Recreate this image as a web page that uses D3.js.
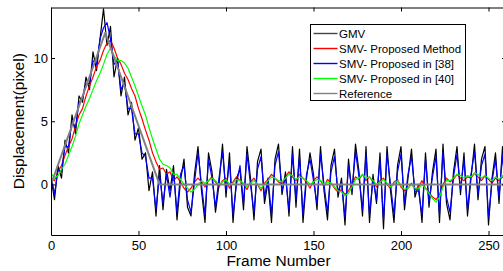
<!DOCTYPE html>
<html>
<head>
<meta charset="utf-8">
<script src="https://cdn.jsdelivr.net/npm/d3@7"></script>
<style>
  html, body { margin: 0; padding: 0; background: #fff; }
  svg { display: block; font-family: "Liberation Sans", Arial, sans-serif; }
</style>
</head>
<body>
<div id="chart"></div>
<script>
// Frame step for all sampled series
const STEP = 2;

// GMV (black), one value every 2 frames from 0 to 260
const gmv = [
  0.5, -1.2, 1.5, 0.5, 3.5, 2.5, 5.5, 4.0, 7.0, 6.5, 8.5, 7.5, 10.5, 9.0, 11.5, 13.9,
  11.0, 12.5, 8.5, 10.0, 7.0, 8.5, 5.5, 6.5, 3.5, 4.5, 2.0, 2.5, -0.5, 1.0, -2.5, 1.5,
  -2.0, 1.2, -0.5, 1.5, -2.8, 0.3, 2.0, -1.8, -2.5, 0.8, 3.0, -0.5, -3.0, 2.5, 1.0, -2.2,
  0.0, 3.2, -1.0, 2.5, -3.0, 0.5, 1.2, -2.0, 3.0, 0.5, -2.8, 1.8, 2.8, -1.5, 0.2, -3.0,
  2.0, 3.2, -0.8, 1.0, -2.5, 3.0, -1.8, 2.8, -3.0, 0.5, 2.5, 0.8, -2.0, 3.0, -0.5, -2.8,
  1.5, 2.8, -1.0, 0.5, -3.2, 2.0, -0.8, 3.2, 1.0, -2.5, 3.0, -3.0, 0.8, -1.5, 2.5, -3.5,
  3.0, -0.5, -3.0, 1.5, 3.0, -2.0, 0.5, 2.8, -1.0, 0.0, -3.0, 2.5, -1.8, 1.0, 2.8, -3.0,
  3.2, -1.5, -2.8, 1.0, 3.0, -0.8, 2.5, -2.5, 0.5, 3.2, -1.2, 2.0, 3.0, -3.2, 0.5, 2.5,
  -1.5, 3.0, -2.0
];

// SMV - Proposed Method (red)
const smvProposed = [
  0.5, 0.3, 1.0, 1.5, 2.3, 3.0, 3.6, 4.6, 5.5, 6.0, 7.0, 7.8, 8.5, 9.3, 9.8, 10.6,
  11.2, 11.4, 10.8, 10.0, 9.5, 8.8, 8.3, 7.6, 7.0, 6.0, 5.2, 4.3, 3.5, 2.5, 1.8, 1.2,
  1.3, 0.8, 1.0, 0.3, 0.6, 0.2, -0.3, -0.6, -0.3, 0.2, 0.5, 0.2, -0.2, 0.3, 0.6, 0.2,
  -0.2, 0.3, 0.5, -0.3, 0.2, 0.6, 0.3, 0.0, -0.4, 0.2, 0.5, 0.0, -0.5, 0.1, 0.4, 0.8,
  0.5, 0.2, 0.0, 0.6, 1.0, 0.6, 0.3, 0.8, 0.5, 0.2, -0.3, 0.3, 0.6, 0.3, -0.2, 0.4,
  0.1, -0.3, -0.6, -0.4, -0.8, -0.5, 0.0, 0.6, 0.4, 0.8, 0.3, 0.6, 0.2, -0.2, 0.3, 0.5,
  0.0, -0.3, 0.2, 0.4, -0.2, -0.5, -0.3, 0.1, -0.4, -0.2, 0.3, -0.3, -0.6, -1.0, -1.2, -0.8,
  0.0, 0.5, 0.2, 0.4, 0.8, 0.5, 0.3, 0.6, 0.5, 0.9, 0.6, 0.3, 0.7, 0.4, 0.1, 0.5,
  0.3, 0.6, 0.4
];

// SMV - Proposed in [38] (blue)
const smv38 = [
  0.8, -0.8, 1.2, 1.0, 3.0, 3.0, 5.0, 4.5, 6.5, 6.8, 8.0, 8.0, 9.8, 9.5, 11.5, 12.4,
  12.8, 11.5, 9.5, 9.8, 7.5, 8.0, 6.0, 6.0, 4.0, 4.0, 2.5, 2.2, 0.5, 0.5, -2.0, 0.8,
  -1.5, 0.8, -1.0, 1.0, -2.2, 0.8, 1.5, -1.2, -2.2, 0.2, 2.5, 0.0, -2.4, 2.0, 0.5, -1.8,
  0.5, 2.6, -0.5, 1.8, -2.4, 0.0, 1.5, -1.5, 2.4, 0.0, -2.2, 1.2, 2.2, -1.0, 0.5, -2.4,
  1.5, 2.6, -0.5, 0.6, -2.0, 2.4, -1.2, 2.2, -2.4, 0.8, 2.0, 0.3, -1.5, 2.4, 0.0, -2.2,
  1.0, 2.2, -0.6, 0.2, -2.6, 1.5, -0.5, 2.6, 0.6, -2.0, 2.4, -2.4, 0.4, -1.2, 2.0, -2.8,
  2.4, 0.0, -2.4, 1.0, 2.4, -1.5, 0.8, 2.2, -0.6, -0.5, -2.4, 2.0, -1.4, 0.6, 2.2, -2.4,
  2.6, -1.0, -2.2, 0.6, 2.4, -0.4, 2.0, -2.0, 0.8, 2.6, -0.8, 1.5, 2.4, -2.6, 0.2, 2.0,
  -1.0, 2.4, -1.6
];

// SMV - Proposed in [40] (green)
const smv40 = [
  0.9, 0.5, 0.7, 1.2, 1.6, 2.3, 3.0, 3.8, 4.8, 5.5, 6.2, 6.8, 7.5, 8.2, 8.8, 9.5,
  10.3, 10.8, 10.2, 9.8, 9.8, 9.6, 9.2, 8.5, 7.8, 7.0, 6.2, 5.5, 4.5, 3.6, 2.8, 2.0,
  1.6, 1.5, 1.3, 0.8, 0.8, 0.4, 0.0, -0.3, -0.6, -0.4, 0.0, 0.3, 0.1, 0.3, 0.5, 0.3,
  0.0, 0.2, 0.4, 0.0, 0.1, 0.4, 0.3, 0.1, -0.2, 0.1, 0.3, 0.0, -0.3, 0.0, 0.3, 0.6,
  0.5, 0.3, 0.2, 0.5, 0.8, 0.7, 0.4, 0.6, 0.5, 0.3, 0.0, 0.2, 0.4, 0.3, 0.0, 0.2,
  0.1, -0.2, -0.5, -0.6, -0.9, -0.7, -0.2, 0.4, 0.5, 0.8, 0.5, 0.6, 0.3, 0.0, 0.2, 0.4,
  0.1, -0.2, 0.0, 0.3, -0.1, -0.4, -0.3, 0.0, -0.3, -0.3, 0.0, -0.3, -0.7, -1.1, -1.4, -1.0,
  -0.2, 0.3, 0.3, 0.5, 0.8, 0.7, 0.5, 0.7, 0.6, 0.9, 0.8, 0.5, 0.7, 0.5, 0.3, 0.6,
  0.4, 0.7, 0.6
];

// Reference (gray): breakpoints
const refFrames = [0, 31, 62, 260];
const refValues = [0, 12, 0, 0];

const xTicks = [0, 50, 100, 150, 200, 250];
const yTicks = [0, 5, 10];

const seriesNames = ["GMV", "SMV- Proposed Method", "SMV- Proposed in [38]", "SMV- Proposed in [40]", "Reference"];
const seriesColors = ["#000000", "#ff0000", "#0000ff", "#00ff00", "#808080"];

(function () {
  const W = 503, H = 271;
  const margin = { top: 7.5, left: 51, right: 0, bottom: 36 };
  const plotW = 455; // frames 0..260, right edge falls just off the window
  const plotH = H - margin.top - margin.bottom;

  const x = d3.scaleLinear().domain([0, 260]).range([margin.left, margin.left + plotW]);
  const y = d3.scaleLinear().domain([-4, 14]).range([margin.top + plotH, margin.top]);

  const svg = d3.select("#chart").append("svg")
    .attr("width", W)
    .attr("height", H);

  svg.append("defs").append("clipPath").attr("id", "plot-clip")
    .append("rect")
    .attr("x", x(0)).attr("y", y(14))
    .attr("width", x(260) - x(0)).attr("height", y(-4) - y(14));

  const toPts = arr => arr.map((v, i) => [i * STEP, v]);
  const series = [
    toPts(gmv),
    toPts(smvProposed),
    toPts(smv38),
    toPts(smv40),
    refFrames.map((f, i) => [f, refValues[i]])
  ];
  const widths = [1.2, 1.2, 1.2, 1.2, 2];

  const line = d3.line().x(d => x(d[0])).y(d => y(d[1]));

  const lines = svg.append("g").attr("clip-path", "url(#plot-clip)");
  series.forEach((pts, i) => {
    lines.append("path")
      .datum(pts)
      .attr("fill", "none")
      .attr("stroke", seriesColors[i])
      .attr("stroke-width", widths[i])
      .attr("stroke-linejoin", "round")
      .attr("d", line);
  });

  // Axes (ticks pointing inward, MATLAB style)
  const tickLen = 4;
  const bottom = svg.append("g")
    .attr("transform", `translate(0,${y(-4)})`)
    .call(d3.axisBottom(x).tickValues(xTicks).tickSizeInner(-tickLen).tickSizeOuter(0).tickPadding(6));
  const top = svg.append("g")
    .attr("transform", `translate(0,${y(14)})`)
    .call(d3.axisTop(x).tickValues(xTicks).tickSizeInner(-tickLen).tickSizeOuter(0).tickFormat(""));
  const left = svg.append("g")
    .attr("transform", `translate(${x(0)},0)`)
    .call(d3.axisLeft(y).tickValues(yTicks).tickSizeInner(-tickLen).tickSizeOuter(0).tickPadding(3));
  const right = svg.append("g")
    .attr("transform", `translate(${x(260)},0)`)
    .call(d3.axisRight(y).tickValues(yTicks).tickSizeInner(-tickLen).tickSizeOuter(0).tickFormat(""));

  [bottom, top, left, right].forEach(g => {
    g.select(".domain").attr("stroke", "#000").attr("stroke-width", 1);
    g.selectAll(".tick line").attr("stroke", "#000");
    g.selectAll(".tick text")
      .attr("fill", "#000")
      .style("font-size", "13px")
      .style("font-family", "Liberation Sans, Arial, sans-serif");
  });

  svg.append("text")
    .attr("x", (x(0) + x(260)) / 2)
    .attr("y", 266)
    .attr("text-anchor", "middle")
    .style("font-size", "15.5px")
    .text("Frame Number");

  svg.append("text")
    .attr("transform", `translate(24,${(y(-4) + y(14)) / 2}) rotate(-90)`)
    .attr("text-anchor", "middle")
    .style("font-size", "15.5px")
    .text("Displacement(pixel)");

  // Legend
  const lg = svg.append("g").attr("transform", "translate(310.5,24.5)");
  lg.append("rect")
    .attr("width", 155).attr("height", 76)
    .attr("fill", "#fff").attr("stroke", "#000").attr("stroke-width", 1);
  seriesNames.forEach((name, i) => {
    const cy = 9 + i * 15;
    lg.append("line")
      .attr("x1", 3).attr("x2", 27).attr("y1", cy).attr("y2", cy)
      .attr("stroke", i === 0 ? "#444" : seriesColors[i])
      .attr("stroke-width", 1.4);
    lg.append("text")
      .attr("x", 28.5).attr("y", cy + 4)
      .style("font-size", "11.5px")
      .text(name);
  });
})();
</script>
</body>
</html>
